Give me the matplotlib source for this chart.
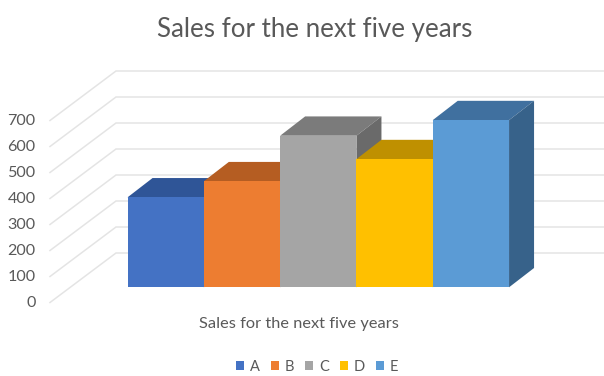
import matplotlib
matplotlib.use('Agg')
import matplotlib.pyplot as plt

categories = ['A', 'B', 'C', 'D', 'E']
sales = [346, 408, 583, 493, 643]
yticks = [0, 100, 200, 300, 400, 500, 600, 700]

front_colors = ['#4472c4', '#ed7d31', '#a5a5a5', '#ffc000', '#5b9bd5']
top_colors = ['#2f5597', '#b55d22', '#7b7b7b', '#bf9000', '#40709f']
side_colors = ['#2b4d8a', '#a35420', '#6a6a6a', '#a67d00', '#37628a']

plt.rcParams['font.family'] = ['Lato', 'DejaVu Sans']

W, H = 604, 376
BAR_W = 76.3    # pixels per category
PX_100 = 26.0   # pixels per 100 units
X0 = 165.7      # pixel centre of first bar
Y0 = 287.3      # pixel row of the bars' base


def dx(px):
    return px / BAR_W


def dy(px):
    return px / PX_100 * 100


fig = plt.figure(figsize=(W / 100, H / 100), dpi=100)
ax = fig.add_axes([0, 0, 1, 1])
ax.set_xlim(-dx(X0), dx(W - X0))
ax.set_ylim(-dy(H - Y0), dy(Y0))
ax.axis('off')

# wall and side gridlines, offsets from the plane of the bars' front
left_x = -dx(X0 - 50)
corner_x = -dx(X0 - 116)
near_y = -dy(15.2)
far_y = dy(34.3)
for t in yticks:
    ax.plot([left_x, corner_x, dx(W - X0)], [t + near_y, t + far_y, t + far_y],
            color='#e4e4e4', lw=1.1, zorder=1, solid_joinstyle='miter')
    ax.text(-dx(X0 - 35.5), t + near_y - dy(0.6), str(t), ha='right', va='center',
            fontsize=11.6, color='#595959')

# 3d bars: top and side faces are the front face shifted back
depth_x = dx(25)
depth_y = dy(19.3)
for i, v in enumerate(sales):
    l, r = i - 0.5, i + 0.5
    ax.fill([l, l + depth_x, r + depth_x, r], [v, v + depth_y, v + depth_y, v],
            color=top_colors[i], lw=0, zorder=2 + i)
    ax.fill([r, r + depth_x, r + depth_x, r], [0, depth_y, v + depth_y, v],
            color=side_colors[i], lw=0, zorder=2 + i)
    ax.bar(i, v, width=1.0, color=front_colors[i], label=categories[i], lw=0, zorder=2.5 + i)

fig.text(314.5 / W, 1 - 29 / H, 'Sales for the next five years', ha='center', va='center',
         fontsize=18.6, color='#595959')
fig.text(298.5 / W, 1 - 324 / H, 'Sales for the next five years', ha='center', va='center',
         fontsize=11.8, color='#595959')

leg = ax.legend(loc='center', bbox_to_anchor=(317 / W, 1 - 367 / H), ncol=5, frameon=False,
                fontsize=10.5, labelcolor='#595959', handlelength=0.55, handleheight=0.55,
                handletextpad=0.4, columnspacing=0.75, borderpad=0)

fig.savefig('out.png', dpi=100, facecolor='white')
